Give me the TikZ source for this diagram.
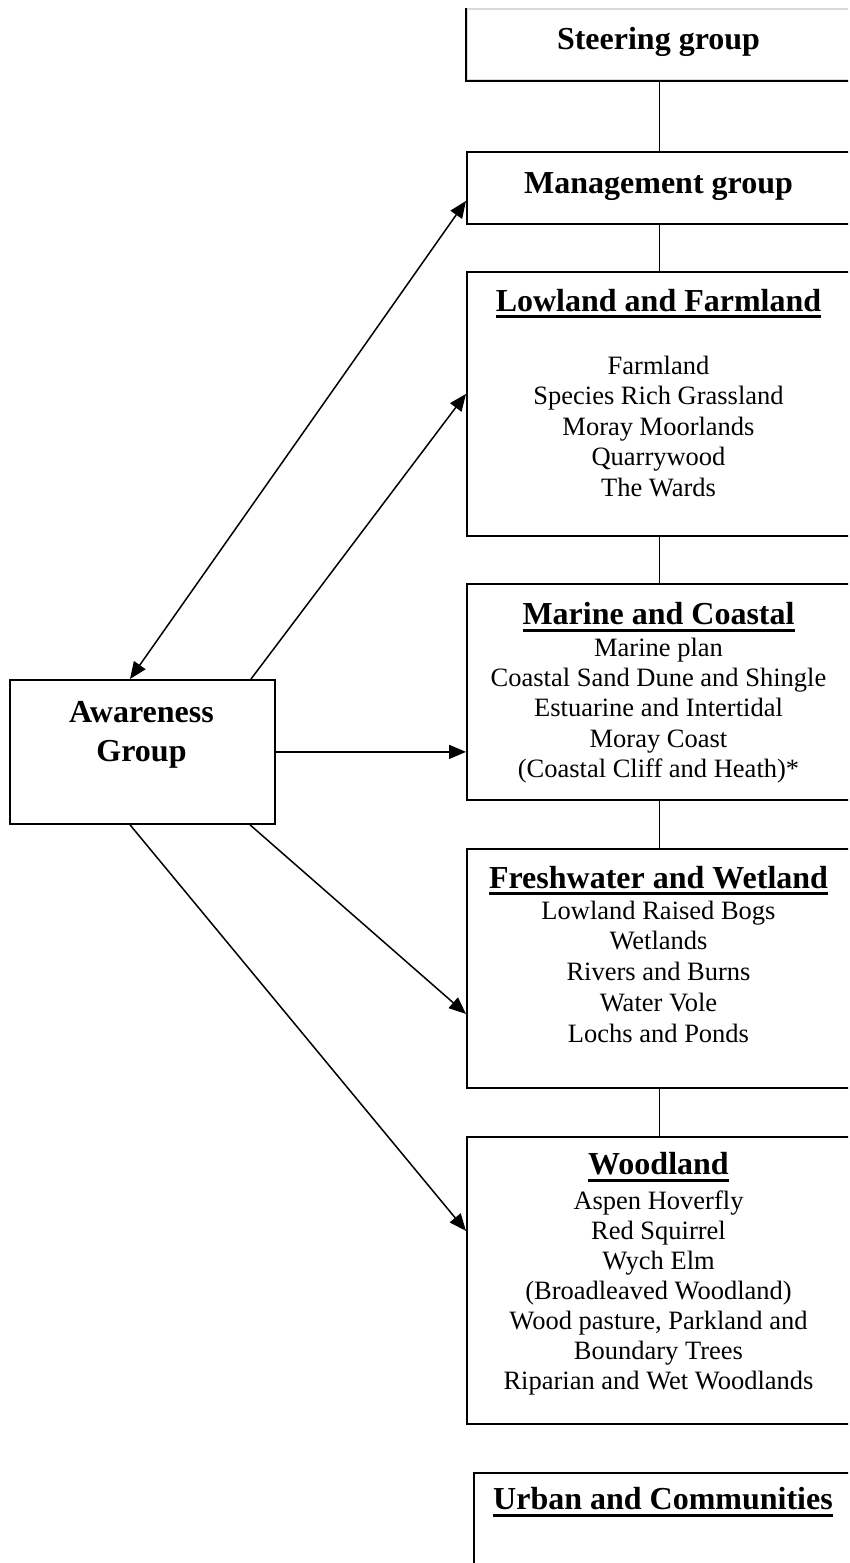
\documentclass[tikz,border=0pt]{standalone}
\usepackage{fontspec}
\setmainfont{Liberation Serif}
\usetikzlibrary{arrows.meta,calc}
\newcommand\hdline[1]{\setbox0\hbox{#1}\rlap{\rule[-7pt]{\wd0}{3pt}}\box0}
\begin{document}
\begin{tikzpicture}[x=1pt,y=-1pt,
  box/.style={draw, line width=1.8pt, rectangle, inner sep=0pt, anchor=north west, minimum width=385pt},
  conn/.style={line width=1.5pt},
  tip/.tip={Triangle[length=17pt,width=14pt]},
  arr/.style={line width=1.5pt, -tip},
  ttl/.style={anchor=base, inner sep=0pt, font=\fontsize{32}{36}\selectfont\bfseries},
  itm/.style={anchor=base, inner sep=0pt, font=\fontsize{26.5}{30}\selectfont}]
\useasboundingbox (0,0) rectangle (849,1563);
\clip (0,0) rectangle (848,1563);
% boxes
\node[box, draw=black!15, minimum height=71pt] (steer) at (466,8) {};
\draw[line width=1.8pt] (steer.north west) -- (steer.south west) -- (steer.south east);
\node[box, minimum height=72pt] (mgmt) at (466,151) {};
\node[box, minimum height=264pt] (low) at (466,271) {};
\node[box, minimum height=216pt] (mar) at (466,583) {};
\node[box, minimum height=239pt] (fresh) at (466,848) {};
\node[box, minimum height=287pt] (wood) at (466,1136) {};
\node[box, minimum width=380pt, minimum height=200pt] (urban) at (473,1472) {};
\node[box, minimum width=265pt, minimum height=144pt] (aw) at (9,679) {};
% vertical connectors
\draw[conn] (steer.south) -- (mgmt.north);
\draw[conn] (mgmt.south) -- (low.north);
\draw[conn] (low.south) -- (mar.north);
\draw[conn] (mar.south) -- (fresh.north);
\draw[conn] (fresh.south) -- (wood.north);
% arrows
\draw[arr, tip-tip] ([xshift=121pt]aw.north west) -- ([yshift=-13pt]mgmt.west);
\draw[arr] ([xshift=242pt]aw.north west) -- ([yshift=10pt]low.west);
\draw[arr] (aw.east) -- (aw.east -| mar.west);
\draw[arr] ([xshift=241pt]aw.south west) -- ([yshift=-45.5pt]fresh.west);
\draw[arr] ([xshift=121pt]aw.south west) -- ([yshift=49.5pt]wood.west);
% texts
\node[ttl] (t-steer) at (658.5,49) {Steering group};
\node[ttl] (t-mgmt) at (658.5,193) {Management group};
\node[ttl] (t-aw1) at (141.5,722) {Awareness};
\node[ttl] (t-aw2) at (141.5,761) {Group};
\node[ttl] (t-low) at (658.5,311) {\hdline{Lowland and Farmland}};
\foreach \t [count=\i] in {Farmland, Species Rich Grassland, Moray Moorlands, Quarrywood, The Wards}
  \node[itm] (low-\i) at (658.5, {374+30.5*(\i-1)}) {\t};
\node[ttl] (t-mar) at (658.5,624.5) {\hdline{Marine and Coastal}};
\foreach \t [count=\i] in {Marine plan, Coastal Sand Dune and Shingle, Estuarine and Intertidal, Moray Coast, (Coastal Cliff and Heath)*}
  \node[itm] (mar-\i) at (658.5, {656+30.4*(\i-1)}) {\t};
\node[ttl] (t-fresh) at (658.5,888) {\hdline{Freshwater and Wetland}};
\foreach \t [count=\i] in {Lowland Raised Bogs, Wetlands, Rivers and Burns, Water Vole, Lochs and Ponds}
  \node[itm] (fresh-\i) at (658.5, {919+30.9*(\i-1)}) {\t};
\node[ttl] (t-wood) at (658.5,1174.5) {\hdline{Woodland}};
\foreach \t [count=\i] in {Aspen Hoverfly, Red Squirrel, Wych Elm, (Broadleaved Woodland), {Wood pasture, Parkland and}, Boundary Trees, Riparian and Wet Woodlands}
  \node[itm] (wood-\i) at (658.5, {1209+30*(\i-1)}) {\t};
\node[ttl] (t-urban) at (663,1509.5) {\hdline{Urban and Communities}};
\end{tikzpicture}
\end{document}
